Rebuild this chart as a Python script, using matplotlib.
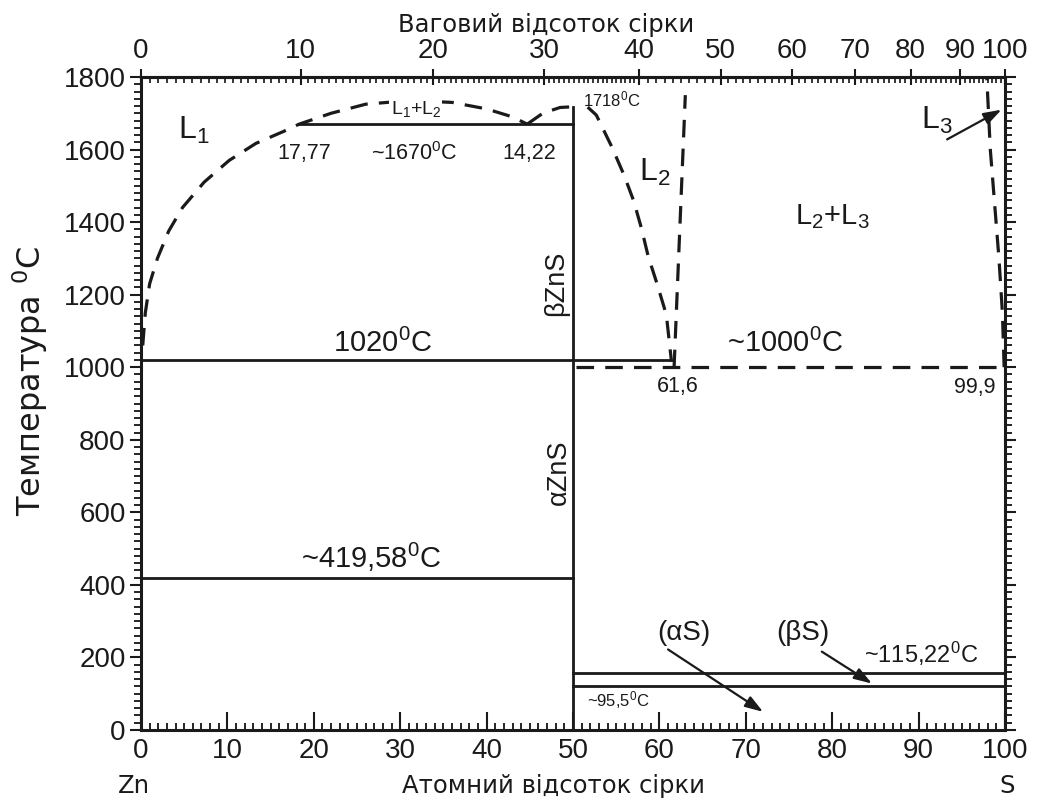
"""Zn-S phase diagram (Ukrainian labels)."""
import matplotlib.pyplot as plt
import numpy as np

plt.rcParams['font.family'] = ['Liberation Sans', 'DejaVu Sans']
plt.rcParams['mathtext.fontset'] = 'custom'
plt.rcParams['mathtext.rm'] = 'Liberation Sans'
plt.rcParams['mathtext.it'] = 'Liberation Sans:italic'

INK = '#1a1a1a'
M_ZN, M_S = 65.38, 32.06

# ── data (atomic % S, °C) ──
# L1 liquidus + L1/L2 miscibility dome
l1_x = [0.2, 0.5, 1.0, 1.9, 3.2, 4.8, 7.3, 10.2, 13.3, 16.5, 18.3,
        22.0, 26.0, 31.0, 36.0, 40.0, 43.0, 44.7]
l1_t = [1060, 1150, 1230, 1300, 1375, 1440, 1510, 1570, 1617, 1650, 1670,
        1700, 1725, 1735, 1730, 1712, 1690, 1670]
# rise to the ZnS maximum
rise_x = [44.7, 46.5, 48.5, 50.0]
rise_t = [1670, 1700, 1716, 1718]
# L2 liquidus on the S side
l2_x = [51.7, 52.7, 54.5, 55.9, 57.0, 57.9, 58.7, 59.7, 60.8, 61.4]
l2_t = [1717, 1695, 1607, 1530, 1460, 1385, 1306, 1232, 1145, 1015]
# L2 / L2+L3 boundary
gap_x = [61.7, 63.0]
gap_t = [1000, 1750]
# L3 boundary near pure S
l3_x = [99.9, 99.7, 99.3, 98.8, 98.3, 97.9]
l3_t = [1000, 1150, 1300, 1450, 1600, 1795]
# monotectic (dashed)
mono_x = [50.3, 99.8]
mono_t = [1000, 1000]

# solid horizontals: (x0, x1, T)
iso_x0 = [18.3, 0, 0, 50, 50]
iso_x1 = [50, 61.3, 50, 100, 100]
iso_t = [1670, 1020, 419.58, 158, 121]
# ZnS compound line
zns_x = [50, 50]
zns_t = [0, 1718]

wt_ticks = [0, 10, 20, 30, 40, 50, 60, 70, 80, 90, 100]


def at2wt(a):
    a = np.clip(np.asarray(a, dtype=float), 0, 100)
    return 100 * a * M_S / (a * M_S + (100 - a) * M_ZN)


def wt2at(w):
    w = np.clip(np.asarray(w, dtype=float), 0, 100)
    return 100 * (w / M_S) / (w / M_S + (100 - w) / M_ZN)


fig = plt.figure(figsize=(10.43, 8), dpi=100, facecolor='white')
ax = fig.add_axes([141 / 1043, 70 / 800, 864 / 1043, 653 / 800])
ax.set_xlim(0, 100)
ax.set_ylim(0, 1800)

for s in ax.spines.values():
    s.set_linewidth(2.2)
    s.set_color(INK)

dash = dict(color=INK, lw=2.3, dashes=(5.5, 3.5), solid_capstyle='butt')
solid = dict(color=INK, lw=2.0)

ax.plot(l1_x, l1_t, **dash)
ax.plot(rise_x, rise_t, **dash)
ax.plot(l2_x, l2_t, **dash)
ax.plot(gap_x, gap_t, **dash)
ax.plot(l3_x, l3_t, **dash)
ax.plot(mono_x, mono_t, **dash)

for x0, x1, t in zip(iso_x0, iso_x1, iso_t):
    ax.plot([x0, x1], [t, t], **solid)
ax.plot(zns_x, zns_t, **solid)

# ── arrows ──
arr = dict(arrowstyle='-|>,head_length=0.9,head_width=0.3', color=INK, lw=1.6,
           mutation_scale=12, shrinkA=0, shrinkB=0)
ax.annotate('', xy=(99.6, 1710), xytext=(93.3, 1628), arrowprops=arr)
ax.annotate('', xy=(72.0, 50), xytext=(61.0, 222), arrowprops=arr)
ax.annotate('', xy=(84.6, 128), xytext=(78.8, 216), arrowprops=arr)

# ── labels in the field ──
SUP0 = r'$\mathregular{^0}$'


def lab(x, y, s, size, **kw):
    kw.setdefault('ha', 'center')
    kw.setdefault('va', 'center')
    ax.text(x, y, s, fontsize=size, color=INK, **kw)


lab(6.1, 1654, r'$\mathregular{L_1}$', 23)
lab(31.8, 1712, r'$\mathregular{L_1{+}L_2}$', 14,
    bbox=dict(fc='white', ec='none', pad=1))
lab(18.9, 1590, '17,77', 15.5)
lab(31.6, 1590, '~1670' + SUP0 + 'C', 15.5)
lab(44.9, 1590, '14,22', 15.5)
lab(54.5, 1738, '1718' + SUP0 + 'C', 12)
lab(59.5, 1538, r'$\mathregular{L_2}$', 23)
lab(80.0, 1414, r'$\mathregular{L_2{+}L_3}$', 21)
lab(92.1, 1681, r'$\mathregular{L_3}$', 23)
lab(28.0, 1042, '1020' + SUP0 + 'C', 21, va='baseline')
lab(74.5, 1042, '~1000' + SUP0 + 'C', 21, va='baseline')
lab(62.1, 948, '61,6', 15.5)
lab(96.5, 944, '99,9', 15.5)
lab(26.6, 446, '~419,58' + SUP0 + 'C', 21, va='baseline')
lab(48.1, 1232, 'βZnS', 19.5, rotation=90)
lab(48.4, 711, 'αZnS', 19.5, rotation=90)
lab(62.8, 267, '(αS)', 20)
lab(76.6, 267, '(βS)', 20)
lab(90.3, 185, '~115,22' + SUP0 + 'C', 17, va='baseline')
lab(51.6, 83, '~95,5' + SUP0 + 'C', 12, ha='left')

# ── bottom axis (atomic %) ──
ax.set_xticks(np.arange(0, 101, 10))
ax.set_xticks(np.arange(0, 101, 1), minor=True)
ax.set_yticks(np.arange(0, 1801, 200))
ax.set_yticks(np.arange(0, 1801, 20), minor=True)
ax.xaxis.set_ticks_position('bottom')
ax.yaxis.set_ticks_position('both')
ax.tick_params(axis='x', which='major', direction='in', length=13, width=1.5,
               labelsize=20, pad=6, colors=INK)
ax.tick_params(axis='x', which='minor', direction='in', length=5, width=1.2)
ax.tick_params(axis='y', which='major', direction='out', length=8, width=1.5,
               labelsize=20, pad=3, colors=INK, labelright=False)
ax.tick_params(axis='y', which='minor', direction='out', length=5, width=1.2)

# ── top axis (weight %) ──
ax2 = ax.secondary_xaxis('top', functions=(at2wt, wt2at))
ax2.set_xticks(wt_ticks)
ax2.set_xticks(np.concatenate([np.arange(0, 40, 0.5), np.arange(40, 101, 1)]),
               minor=True)
ax2.spines['top'].set_linewidth(2.2)
ax2.tick_params(axis='x', which='major', direction='inout', length=11,
                width=1.5, labelsize=20, pad=4, colors=INK)
ax2.tick_params(axis='x', which='minor', direction='in', length=4, width=1.1)

# ── axis captions ──
cap = dict(family='DejaVu Sans', color=INK, ha='center', va='center')
fig.text(546 / 1043, 1 - 25 / 800, 'Ваговий відсоток сірки', fontsize=17.5, **cap)
fig.text(553 / 1043, 1 - 786 / 800, 'Атомний відсоток сірки', fontsize=17.5, **cap)
fig.text(134 / 1043, 1 - 786 / 800, 'Zn', fontsize=17.5, **cap)
fig.text(1007 / 1043, 1 - 786 / 800, 'S', fontsize=17.5, **cap)
fig.text(30 / 1043, 1 - 381 / 800, 'Температура ' + SUP0 + 'C',
         fontsize=23, rotation=90, **cap)

plt.savefig('out.png', dpi=100, facecolor='white')
